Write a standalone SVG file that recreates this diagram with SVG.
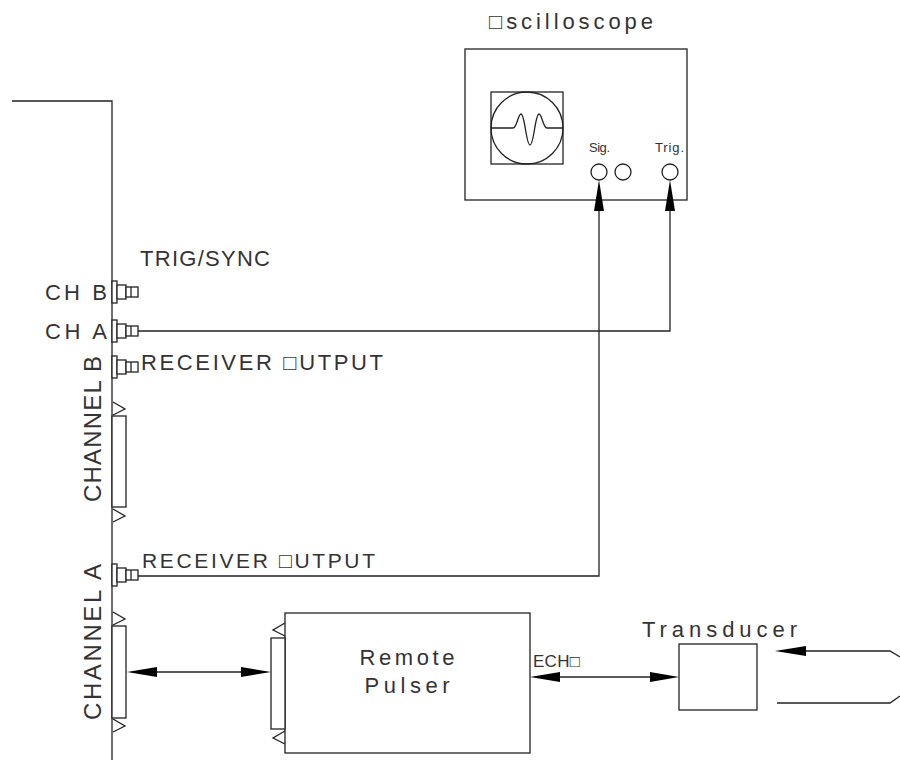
<svg xmlns="http://www.w3.org/2000/svg" xmlns:xlink="http://www.w3.org/1999/xlink" width="900" height="763" viewBox="0 0 900 763">
<style>
.ln{fill:none;stroke:#222;stroke-width:1.3}
.bx{fill:#fff;stroke:#222;stroke-width:1.3}
.ah{fill:#000;stroke:none}
.t{font-family:"Liberation Sans",Arial,sans-serif;fill:#333}
</style>
<defs>
<g id="bnc">
<rect class="bx" x="0" y="-11" width="5" height="22"/>
<rect class="bx" x="5" y="-7" width="9" height="14"/>
<rect class="bx" x="14" y="-5" width="12" height="10"/>
<line class="ln" x1="19" y1="-5" x2="19" y2="5"/>
</g>
<path id="scr" class="ln" d="M1,0 L13,7 L1,13"/>
<path id="scl" class="ln" d="M13,0 L1,7 L13,13"/>
</defs>

<g id="panel">
<polyline class="ln" points="12,101 112,101 112,760"/>
<text class="t" x="140" y="266" font-size="22" textLength="130">TRIG/SYNC</text>
<text class="t" x="45" y="300" font-size="22" textLength="62">CH B</text>
<text class="t" x="45" y="339" font-size="22" textLength="62">CH A</text>
<use xlink:href="#bnc" x="112" y="292"/>
<use xlink:href="#bnc" x="112" y="331"/>
<use xlink:href="#bnc" x="112" y="367"/>
<text class="t" x="141" y="370" font-size="22" textLength="242">RECEIVER □UTPUT</text>
<text class="t" transform="translate(101,502) rotate(-90)" font-size="24" textLength="146">CHANNEL B</text>
<use xlink:href="#scr" x="112" y="402"/>
<rect class="bx" x="112" y="416" width="14" height="91"/>
<use xlink:href="#scr" x="112" y="509"/>
<use xlink:href="#bnc" x="112" y="575"/>
<text class="t" x="142" y="568" font-size="21" textLength="233">RECEIVER □UTPUT</text>
<text class="t" transform="translate(101,720) rotate(-90)" font-size="24" textLength="156">CHANNEL A</text>
<use xlink:href="#scr" x="112" y="612"/>
<rect class="bx" x="112" y="626" width="14" height="92"/>
<use xlink:href="#scr" x="112" y="719"/>
</g>

<g id="oscilloscope">
<text class="t" x="489" y="29" font-size="22" textLength="164">□scilloscope</text>
<rect class="bx" x="465" y="49" width="222" height="151"/>
<rect class="bx" x="491" y="92" width="72" height="72"/>
<circle class="ln" cx="527" cy="128" r="36"/>
<path class="ln" d="M491,128 L513,128 C517,128 518,114 521,114 C525,114 526,145 530,145 C534,145 535,114 539,114 C542,114 543,128 547,128 L563,128"/>
<text class="t" x="589" y="152" font-size="13" textLength="21">Sig.</text>
<text class="t" x="655" y="152" font-size="13" textLength="29">Trig.</text>
<circle class="ln" cx="599" cy="172" r="8"/>
<circle class="ln" cx="623" cy="172" r="8"/>
<circle class="ln" cx="670" cy="172" r="8"/>
</g>

<g id="remote-pulser">
<rect class="bx" x="285" y="613" width="245" height="140"/>
<rect class="bx" x="271" y="638" width="14" height="91"/>
<use xlink:href="#scl" x="272" y="623"/>
<use xlink:href="#scl" x="272" y="731"/>
<text class="t" x="407" y="665" font-size="22" text-anchor="middle" textLength="95">Remote</text>
<text class="t" x="407" y="693" font-size="22" text-anchor="middle" textLength="85">Pulser</text>
<text class="t" x="533" y="667" font-size="17" textLength="47">ECH□</text>
</g>

<g id="transducer">
<text class="t" x="642" y="637" font-size="22" textLength="155">Transducer</text>
<rect class="bx" x="679" y="644" width="78" height="66"/>
</g>

<g id="probe">
<polyline class="ln" points="806,651 890,651 900,657"/>
<polyline class="ln" points="777,703 890,703 900,696"/>
<polygon class="ah" points="775,651 806,646 806,656"/>
</g>

<g id="connectors">
<polyline class="ln" points="670,211 670,331 138,331"/>
<polygon class="ah" points="670,180 665,211 675,211"/>
<polyline class="ln" points="599,211 599,576 138,576"/>
<polygon class="ah" points="599,180 594,211 604,211"/>
<line class="ln" x1="157" y1="672" x2="241" y2="672"/>
<polygon class="ah" points="127,672 157,667 157,677"/>
<polygon class="ah" points="271,672 241,667 241,677"/>
<line class="ln" x1="560" y1="677" x2="650" y2="677"/>
<polygon class="ah" points="530,677 560,672 560,682"/>
<polygon class="ah" points="679,677 650,672 650,682"/>
</g>
</svg>
